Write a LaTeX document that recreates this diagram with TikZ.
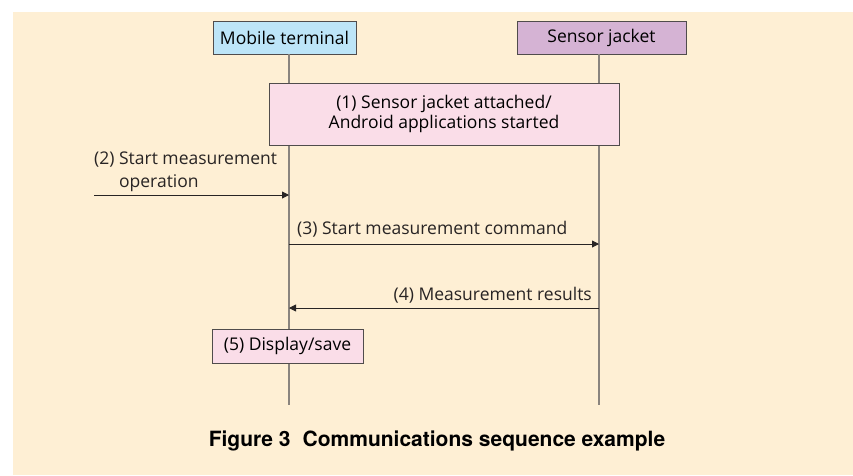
\documentclass[tikz,border=0pt]{standalone}
\usepackage{fontspec}
\setmainfont{Open Sans}
\newfontfamily\captionfont{TeX Gyre Heros}
\usepackage{tikz}
\usetikzlibrary{arrows.meta, positioning}
\definecolor{colorPage}{RGB}{254,239,212}
\definecolor{colorTerminal}{RGB}{189,229,248}
\definecolor{colorJacket}{RGB}{213,179,212}
\definecolor{colorStep}{RGB}{250,221,232}
\definecolor{colorBorder}{RGB}{80,76,76}
\definecolor{colorLifeline}{RGB}{138,132,126}
\definecolor{colorMessage}{RGB}{40,36,36}
\tikzset{
  actor/.style={draw=colorBorder, line width=0.9pt, minimum height=33pt, inner sep=0pt, font=\fontsize{17.5}{20}\selectfont},
  stepbox/.style={draw=colorBorder, line width=0.9pt, fill=colorStep, inner sep=0pt, align=center, font=\fontsize{17.5}{20}\selectfont},
  lifeline/.style={draw=colorLifeline, line width=1.1pt},
  message/.style={draw=colorMessage, line width=0.9pt, -{Triangle[length=7pt,width=7pt]}},
  msgtext/.style={font=\fontsize{17.5}{23}\selectfont, inner sep=0pt, text=colorMessage}
}

\begin{document}
\begin{tikzpicture}[x=1pt, y=-1pt]
\useasboundingbox (0,0) rectangle (853,475);
\fill[colorPage] (13,12) rectangle (853,475);

% the two parties
\node[actor, fill=colorTerminal, minimum width=143pt] (mt) at (284.5,37.5) {Mobile terminal};
\node[actor, fill=colorJacket, minimum width=169pt] (sj) at (601.5,37.5) {Sensor jacket};

% lifelines
\coordinate (mtEnd) at (289,405);
\coordinate (sjEnd) at (599,405);
\draw[lifeline] (mtEnd |- mt.south) -- (mtEnd);
\draw[lifeline] (sjEnd |- sj.south) -- (sjEnd);

% (1) setup
\node[stepbox, minimum width=350pt, minimum height=62pt] (attach) at (444,114) {(1) Sensor jacket attached/\\Android applications started};

% (2) user operation
\coordinate (userIn) at (94,195);
\coordinate (mtIn) at (289,195);
\draw[message] (userIn) -- (mtIn);
\node[msgtext, align=left, anchor=base west] (opText) at (94,187) {(2) Start measurement\\\phantom{(2) }operation};

% (3) command to jacket
\coordinate (mtCmd) at (289,244);
\coordinate (sjCmd) at (599,244);
\draw[message] (mtCmd) -- (sjCmd);
\node[msgtext, anchor=base west] (cmdText) at (297,234.5) {(3) Start measurement command};

% (4) results back
\coordinate (sjRes) at (599,308);
\coordinate (mtRes) at (289,308);
\draw[message] (sjRes) -- (mtRes);
\node[msgtext, anchor=base east] (resText) at (592,300.5) {(4) Measurement results};

% (5) display
\node[stepbox, minimum width=151pt, minimum height=34pt] (show) at (287.5,346) {(5) Display/save};

\node[anchor=base, font=\captionfont\bfseries\fontsize{21}{24}\selectfont] (caption) at (437,446) {Figure 3\hspace{0.3em} Communications sequence example};
\end{tikzpicture}
\end{document}
